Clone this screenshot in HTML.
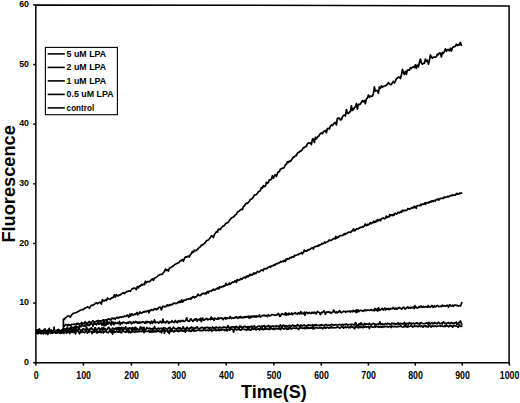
<!DOCTYPE html>
<html><head><meta charset="utf-8"><style>
html,body{margin:0;padding:0;background:#fff;}
body{width:520px;height:403px;overflow:hidden;}
svg{display:block;}
text{font-family:"Liberation Sans",sans-serif;font-weight:bold;fill:#000;}
</style></head><body>
<svg width="520" height="403" viewBox="0 0 520 403">
<rect x="0" y="0" width="520" height="403" fill="#fff"/>
<g fill="none" stroke="#000" stroke-width="1.7" stroke-linejoin="round" stroke-linecap="round">
<polyline points="36.6,332.7 37.3,332.1 38.0,331.2 38.7,331.5 39.4,328.8 40.1,332.4 40.8,333.5 41.5,331.1 42.2,330.8 42.9,331.9 43.6,334.0 44.3,331.6 45.0,330.4 45.7,331.7 46.4,332.9 47.1,331.1 47.8,332.2 48.5,330.5 49.2,331.5 49.9,330.6 50.6,332.3 51.3,331.2 52.0,333.1 52.7,332.7 53.4,332.0 54.1,327.2 54.8,331.8 55.5,332.6 56.2,333.0 56.9,330.7 57.6,331.3 58.3,330.9 59.0,331.1 59.7,333.0 60.4,330.7 61.1,331.5 61.8,332.3 62.5,330.7 63.2,331.3 63.9,331.5"/>
<polyline points="36.6,330.6 37.3,332.5 38.0,331.9 38.7,330.9 39.4,331.6 40.1,330.6 40.8,332.5 41.5,331.4 42.2,332.6 42.9,330.7 43.6,332.8 44.3,330.6 45.0,330.0 45.7,331.7 46.4,331.4 47.1,332.6 47.8,334.5 48.5,330.6 49.2,328.3 49.9,331.7 50.6,332.3 51.3,331.6 52.0,331.5 52.7,332.3 53.4,332.3 54.1,330.6 54.8,331.7 55.5,332.1 56.2,330.8 56.9,332.1 57.6,330.7 58.3,331.1 59.0,332.0 59.7,332.2 60.4,331.3 61.1,332.0 61.8,330.1 62.5,331.2 63.2,332.9 63.9,329.9"/>
<polyline points="36.6,331.9 37.3,331.1 38.0,332.8 38.7,331.6 39.4,331.9 40.1,330.7 40.8,330.5 41.5,333.6 42.2,331.5 42.9,332.4 43.6,331.6 44.3,331.3 45.0,331.4 45.7,331.1 46.4,331.3 47.1,331.2 47.8,331.4 48.5,333.0 49.2,332.5 49.9,331.9 50.6,330.7 51.3,329.9 52.0,332.7 52.7,331.1 53.4,331.1 54.1,331.6 54.8,331.8 55.5,332.0 56.2,332.2 56.9,330.5 57.6,332.8 58.3,329.4 59.0,331.6 59.7,331.1 60.4,332.1 61.1,333.3 61.8,332.7 62.5,329.7 63.2,329.1 63.9,332.4"/>
<polyline points="36.6,333.2 37.3,331.5 38.0,330.0 38.7,330.3 39.4,333.1 40.1,332.0 40.8,331.5 41.5,331.0 42.2,331.4 42.9,332.6 43.6,332.3 44.3,331.8 45.0,328.9 45.7,332.4 46.4,331.2 47.1,333.5 47.8,330.6 48.5,331.4 49.2,331.3 49.9,329.9 50.6,333.3 51.3,333.0 52.0,331.1 52.7,332.2 53.4,331.8 54.1,328.8 54.8,332.3 55.5,332.0 56.2,332.2 56.9,330.2 57.6,332.8 58.3,330.9 59.0,332.4 59.7,331.4 60.4,331.1 61.1,333.1 61.8,330.6 62.5,330.9 63.2,329.2 63.9,333.4"/>
<polyline points="36.6,329.9 37.3,329.8 38.0,333.8 38.7,329.9 39.4,331.8 40.1,331.8 40.8,330.6 41.5,331.4 42.2,333.3 42.9,331.0 43.6,330.3 44.3,329.4 45.0,331.7 45.7,333.7 46.4,333.0 47.1,330.4 47.8,330.4 48.5,331.0 49.2,332.3 49.9,331.5 50.6,331.8 51.3,331.7 52.0,331.0 52.7,333.3 53.4,331.1 54.1,330.7 54.8,331.5 55.5,333.3 56.2,332.1 56.9,331.8 57.6,329.9 58.3,332.4 59.0,329.7 59.7,330.6 60.4,333.3 61.1,333.1 61.8,331.9 62.5,329.6 63.2,331.3 63.9,331.1"/>
<polyline points="63.5,331 63.4,319 63.4,319.0 64.4,319.3 65.4,317.8 66.4,317.4 67.4,316.1 68.4,316.1 69.4,316.1 70.4,317.1 71.4,315.1 72.4,314.2 73.4,313.3 74.4,313.0 75.4,312.8 76.4,312.5 77.4,311.9 78.4,311.3 79.4,311.0 80.4,310.2 81.4,309.7 82.4,309.7 83.4,309.7 84.4,308.3 85.4,308.2 86.4,307.4 87.4,306.9 88.4,307.2 89.4,308.3 90.4,306.5 91.4,305.4 92.4,305.5 93.4,304.8 94.4,304.5 95.4,303.0 96.4,302.7 97.4,303.7 98.4,303.2 99.4,302.4 100.4,302.3 101.4,304.0 102.4,299.5 103.4,300.9 104.4,300.9 105.4,299.9 106.4,300.6 107.4,298.1 108.4,298.8 109.4,299.0 110.4,299.3 111.4,298.0 112.4,297.6 113.4,297.4 114.4,294.8 115.4,297.1 116.4,294.7 117.4,295.7 118.4,295.9 119.4,294.9 120.4,295.0 121.4,293.8 122.4,293.3 123.4,292.6 124.4,293.7 125.4,292.4 126.4,292.0 127.4,291.3 128.4,291.1 129.4,290.8 130.4,291.2 131.4,289.6 132.4,288.7 133.4,288.5 134.4,287.9 135.4,288.4 136.4,289.6 137.4,286.5 138.4,287.8 139.4,285.9 140.4,286.2 141.4,284.3 142.4,285.1 143.4,284.1 144.4,284.7 145.4,281.2 146.4,282.8 147.4,281.7 148.4,281.5 149.4,281.8 150.4,280.9 151.4,279.8 152.4,278.9 153.4,280.4 154.4,278.1 155.4,277.8 156.4,277.1 157.4,276.3 158.4,275.3 159.4,275.0 160.4,274.4 161.4,274.5 162.4,274.1 163.4,272.6 164.4,271.5 165.4,269.1 166.4,270.5 167.4,269.8 168.4,271.1 169.4,268.1 170.4,268.0 171.4,267.0 172.4,266.5 173.4,265.8 174.4,264.9 175.4,264.1 176.4,263.8 177.4,263.1 178.4,262.8 179.4,261.8 180.4,260.6 181.4,260.6 182.4,259.5 183.4,261.3 184.4,258.5 185.4,256.9 186.4,257.2 187.4,256.5 188.4,256.1 189.4,257.0 190.4,254.6 191.4,253.6 192.4,251.4 193.4,252.3 194.4,250.2 195.4,250.6 196.4,250.4 197.4,249.4 198.4,248.5 199.4,247.3 200.4,246.8 201.4,245.0 202.4,245.1 203.4,244.2 204.4,243.3 205.4,242.3 206.4,240.9 207.4,240.3 208.4,240.0 209.4,238.8 210.4,237.6 211.4,235.8 212.4,236.0 213.4,237.5 214.4,234.6 215.4,233.3 216.4,231.7 217.4,232.1 218.4,229.3 219.4,229.2 220.4,229.5 221.4,227.7 222.4,226.9 223.4,225.9 224.4,225.7 225.4,223.8 226.4,223.1 227.4,222.9 228.4,222.1 229.4,220.4 230.4,219.3 231.4,217.9 232.4,217.4 233.4,217.0 234.4,216.1 235.4,214.9 236.4,214.2 237.4,212.2 238.4,211.4 239.4,210.9 240.4,209.9 241.4,209.1 242.4,209.7 243.4,206.6 244.4,206.0 245.4,204.3 246.4,203.1 247.4,203.5 248.4,202.2 249.4,201.4 250.4,199.3 251.4,199.2 252.4,198.1 253.4,196.9 254.4,195.0 255.4,195.0 256.4,194.6 257.4,193.3 258.4,191.8 259.4,191.2 260.4,190.6 261.4,187.6 262.4,188.1 263.4,185.7 264.4,186.6 265.4,186.1 266.4,182.4 267.4,183.3 268.4,182.4 269.4,179.7 270.4,180.0 271.4,179.2 272.4,175.7 273.4,178.2 274.4,175.6 275.4,174.6 276.4,176.7 277.4,173.5 278.4,171.8 279.4,171.7 280.4,169.0 281.4,168.9 282.4,168.1 283.4,168.2 284.4,167.3 285.4,164.8 286.4,164.2 287.4,161.8 288.4,162.5 289.4,160.9 290.4,161.4 291.4,160.0 292.4,158.8 293.4,156.9 294.4,157.1 295.4,155.5 296.4,155.6 297.4,153.2 298.4,152.3 299.4,152.1 300.4,150.8 301.4,150.8 302.4,149.4 303.4,147.7 304.4,147.6 305.4,146.5 306.4,146.4 307.4,143.8 308.4,142.9 309.4,143.3 310.4,142.9 311.4,144.6 312.4,139.3 313.4,138.8 314.4,142.5 315.4,137.4 316.4,138.9 317.4,136.8 318.4,136.4 319.4,135.0 320.4,133.6 321.4,133.1 322.4,133.7 323.4,131.8 324.4,131.3 325.4,130.3 326.4,132.8 327.4,128.5 328.4,128.3 329.4,129.0 330.4,126.0 331.4,125.0 332.4,125.7 333.4,124.2 334.4,122.9 335.4,122.5 336.4,124.9 337.4,118.0 338.4,118.6 339.4,118.1 340.4,120.0 341.4,119.6 342.4,117.2 343.4,115.4 344.4,115.2 345.4,115.9 346.4,109.6 347.4,113.0 348.4,113.6 349.4,112.2 350.4,111.5 351.4,105.8 352.4,110.5 353.4,109.5 354.4,107.7 355.4,106.9 356.4,103.6 357.4,109.1 358.4,104.4 359.4,104.6 360.4,104.0 361.4,102.1 362.4,100.6 363.4,101.9 364.4,100.5 365.4,103.7 366.4,98.9 367.4,98.1 368.4,95.1 369.4,97.2 370.4,96.2 371.4,96.3 372.4,96.1 373.4,93.5 374.4,86.9 375.4,91.1 376.4,90.6 377.4,90.7 378.4,93.2 379.4,87.0 380.4,88.4 381.4,85.9 382.4,87.1 383.4,86.4 384.4,85.9 385.4,85.9 386.4,85.0 387.4,84.3 388.4,82.6 389.4,83.7 390.4,84.8 391.4,84.4 392.4,82.7 393.4,81.3 394.4,83.1 395.4,81.1 396.4,78.7 397.4,78.0 398.4,77.1 399.4,77.2 400.4,78.5 401.4,74.9 402.4,69.3 403.4,72.6 404.4,74.5 405.4,71.3 406.4,74.3 407.4,70.1 408.4,69.9 409.4,70.2 410.4,67.7 411.4,68.5 412.4,67.3 413.4,66.6 414.4,67.6 415.4,64.8 416.4,68.3 417.4,65.0 418.4,66.9 419.4,62.6 420.4,59.0 421.4,63.0 422.4,64.2 423.4,63.4 424.4,63.2 425.4,59.0 426.4,61.4 427.4,60.2 428.4,64.1 429.4,60.7 430.4,54.9 431.4,57.1 432.4,58.2 433.4,57.0 434.4,57.1 435.4,57.2 436.4,56.7 437.4,54.1 438.4,54.7 439.4,52.8 440.4,53.2 441.4,57.0 442.4,52.3 443.4,53.3 444.4,51.3 445.4,48.8 446.4,51.4 447.4,49.6 448.4,49.6 449.4,50.9 450.4,48.2 451.4,51.0 452.4,48.0 453.4,46.9 454.4,46.7 455.4,46.2 456.4,44.2 457.4,45.5 458.4,44.7 459.4,44.9 460.4,42.4 461.4,45.3"/>
<polyline points="63.5,325.9 64.2,326.2 64.9,325.5 65.6,324.6 66.3,324.8 67.0,324.6 67.7,326.0 68.4,324.5 69.1,325.3 69.8,324.8 70.5,325.3 71.2,324.9 71.9,324.3 72.6,324.3 73.3,324.4 74.0,324.4 74.7,324.1 75.4,324.3 76.1,325.0 76.8,323.3 77.5,324.1 78.2,323.4 78.9,324.0 79.6,324.2 80.3,323.6 81.0,323.8 81.7,322.5 82.4,323.9 83.1,323.2 83.8,323.7 84.5,323.2 85.2,321.7 85.9,322.5 86.6,324.0 87.3,323.6 88.0,322.6 88.7,322.2 89.4,321.3 90.1,322.9 90.8,323.2 91.5,322.1 92.2,321.6 92.9,320.7 93.6,321.9 94.3,322.8 95.0,321.7 95.7,321.7 96.4,321.3 97.1,320.7 97.8,321.8 98.5,320.5 99.2,320.9 99.9,320.9 100.6,321.2 101.3,320.9 102.0,320.7 102.7,320.1 103.4,319.9 104.1,320.6 104.8,320.2 105.5,319.9 106.2,319.8 106.9,320.1 107.6,319.3 108.3,319.2 109.0,318.8 109.7,319.6 110.4,319.5 111.1,320.0 111.8,318.1 112.5,318.2 113.2,318.8 113.9,318.4 114.6,318.3 115.3,319.1 116.0,318.0 116.7,317.5 117.4,317.4 118.1,318.2 118.8,318.0 119.5,317.0 120.2,316.9 120.9,317.4 121.6,317.4 122.3,316.7 123.0,317.0 123.7,316.8 124.4,315.8 125.1,316.5 125.8,316.5 126.5,315.9 127.2,314.9 127.9,315.6 128.6,317.3 129.3,316.3 130.0,314.1 130.7,316.0 131.4,314.0 132.1,313.9 132.8,315.2 133.5,314.9 134.2,314.6 134.9,313.8 135.6,314.3 136.3,313.5 137.0,312.5 137.7,314.9 138.4,313.5 139.1,313.7 139.8,311.9 140.5,313.0 141.2,313.2 141.9,313.2 142.6,312.4 143.3,311.8 144.0,312.2 144.7,311.3 145.4,311.5 146.1,311.9 146.8,311.0 147.5,311.0 148.2,310.6 148.9,313.0 149.6,310.9 150.3,310.0 151.0,310.4 151.7,309.5 152.4,309.9 153.1,310.4 153.8,309.1 154.5,309.3 155.2,308.6 155.9,309.2 156.6,309.8 157.3,308.5 158.0,308.7 158.7,307.6 159.4,307.3 160.1,307.1 160.8,308.2 161.5,309.9 162.2,307.2 162.9,306.2 163.6,306.7 164.3,306.3 165.0,306.9 165.7,306.4 166.4,306.3 167.1,304.8 167.8,305.6 168.5,305.6 169.2,304.8 169.9,305.3 170.6,304.5 171.3,304.9 172.0,304.3 172.7,304.5 173.4,303.3 174.1,303.2 174.8,303.1 175.5,303.7 176.2,303.4 176.9,303.4 177.6,302.7 178.3,301.8 179.0,302.7 179.7,301.2 180.4,302.3 181.1,301.0 181.8,299.9 182.5,302.2 183.2,301.5 183.9,300.1 184.6,300.3 185.3,300.0 186.0,300.1 186.7,299.0 187.4,299.1 188.1,299.3 188.8,298.8 189.5,299.0 190.2,298.2 190.9,299.2 191.6,297.6 192.3,297.8 193.0,296.6 193.7,296.7 194.4,297.8 195.1,296.7 195.8,297.1 196.5,296.4 197.2,295.8 197.9,294.1 198.6,295.4 199.3,295.3 200.0,295.7 200.7,295.3 201.4,294.3 202.1,293.6 202.8,293.8 203.5,293.2 204.2,293.5 204.9,294.0 205.6,292.8 206.3,293.9 207.0,292.0 207.7,291.6 208.4,292.9 209.1,291.1 209.8,291.3 210.5,291.1 211.2,291.3 211.9,290.4 212.6,290.1 213.3,289.2 214.0,290.3 214.7,289.5 215.4,289.8 216.1,288.9 216.8,288.9 217.5,287.9 218.2,288.1 218.9,288.8 219.6,286.7 220.3,287.5 221.0,287.4 221.7,286.7 222.4,286.6 223.1,286.8 223.8,285.8 224.5,286.1 225.2,285.3 225.9,283.4 226.6,285.0 227.3,284.9 228.0,284.6 228.7,284.3 229.4,282.9 230.1,284.3 230.8,283.6 231.5,283.1 232.2,282.2 232.9,282.2 233.6,282.3 234.3,281.9 235.0,280.7 235.7,281.5 236.4,282.3 237.1,279.6 237.8,280.6 238.5,280.1 239.2,279.7 239.9,280.0 240.6,278.5 241.3,279.0 242.0,279.3 242.7,278.3 243.4,277.7 244.1,277.7 244.8,277.2 245.5,278.0 246.2,276.4 246.9,277.0 247.6,275.8 248.3,276.6 249.0,276.0 249.7,274.4 250.4,275.3 251.1,274.6 251.8,274.7 252.5,275.1 253.2,273.4 253.9,272.9 254.6,273.9 255.3,273.1 256.0,273.5 256.7,272.3 257.4,271.4 258.1,271.6 258.8,272.1 259.5,271.8 260.2,270.9 260.9,270.4 261.6,270.1 262.3,269.8 263.0,270.8 263.7,269.5 264.4,268.5 265.1,268.5 265.8,268.9 266.5,268.7 267.2,268.1 267.9,267.5 268.6,267.5 269.3,266.5 270.0,266.4 270.7,267.0 271.4,266.0 272.1,265.9 272.8,265.8 273.5,265.2 274.2,264.6 274.9,265.3 275.6,264.3 276.3,263.6 277.0,263.8 277.7,263.6 278.4,262.9 279.1,263.0 279.8,262.6 280.5,261.4 281.2,262.0 281.9,261.7 282.6,261.1 283.3,261.7 284.0,260.4 284.7,260.3 285.4,261.6 286.1,259.1 286.8,259.6 287.5,258.5 288.2,258.7 288.9,259.1 289.6,257.9 290.3,257.6 291.0,258.0 291.7,257.0 292.4,256.9 293.1,256.9 293.8,257.1 294.5,255.3 295.2,255.7 295.9,255.3 296.6,255.1 297.3,254.8 298.0,254.4 298.7,254.6 299.4,253.5 300.1,253.6 300.8,253.2 301.5,252.5 302.2,253.9 302.9,253.1 303.6,252.2 304.3,250.1 305.0,251.2 305.7,250.8 306.4,251.1 307.1,251.0 307.8,249.8 308.5,249.7 309.2,250.1 309.9,249.2 310.6,249.1 311.3,248.0 312.0,248.0 312.7,247.9 313.4,249.0 314.1,247.3 314.8,246.8 315.5,246.4 316.2,246.3 316.9,246.4 317.6,245.7 318.3,246.2 319.0,245.0 319.7,245.4 320.4,244.5 321.1,244.5 321.8,243.4 322.5,243.9 323.2,243.6 323.9,243.3 324.6,242.0 325.3,243.1 326.0,242.3 326.7,242.0 327.4,241.7 328.1,241.5 328.8,240.1 329.5,240.3 330.2,240.2 330.9,240.5 331.6,240.2 332.3,239.5 333.0,239.0 333.7,238.6 334.4,238.6 335.1,238.9 335.8,236.3 336.5,238.3 337.2,237.8 337.9,237.0 338.6,237.4 339.3,236.0 340.0,235.7 340.7,235.6 341.4,235.8 342.1,235.6 342.8,235.0 343.5,235.0 344.2,233.6 344.9,234.6 345.6,233.5 346.3,233.7 347.0,233.4 347.7,232.7 348.4,232.2 349.1,232.0 349.8,232.2 350.5,232.4 351.2,232.0 351.9,230.8 352.6,230.7 353.3,229.0 354.0,230.9 354.7,229.4 355.4,230.5 356.1,229.3 356.8,228.7 357.5,228.8 358.2,228.8 358.9,228.1 359.6,228.1 360.3,227.3 361.0,227.5 361.7,227.3 362.4,226.5 363.1,227.1 363.8,226.2 364.5,226.0 365.2,224.0 365.9,225.3 366.6,225.6 367.3,224.3 368.0,225.1 368.7,224.4 369.4,224.1 370.1,222.6 370.8,223.4 371.5,223.7 372.2,222.7 372.9,222.7 373.6,221.2 374.3,222.5 375.0,221.7 375.7,222.1 376.4,220.3 377.1,221.3 377.8,219.6 378.5,220.7 379.2,219.6 379.9,219.5 380.6,220.7 381.3,219.0 382.0,218.6 382.7,218.2 383.4,217.9 384.1,218.8 384.8,218.6 385.5,218.2 386.2,216.0 386.9,217.3 387.6,217.2 388.3,216.9 389.0,216.9 389.7,214.5 390.4,215.8 391.1,215.0 391.8,214.7 392.5,215.6 393.2,214.5 393.9,215.4 394.6,213.8 395.3,213.3 396.0,213.8 396.7,214.1 397.4,213.2 398.1,212.1 398.8,212.6 399.5,213.0 400.2,212.0 400.9,211.6 401.6,212.3 402.3,210.2 403.0,210.9 403.7,210.8 404.4,210.3 405.1,210.7 405.8,210.3 406.5,210.4 407.2,209.8 407.9,208.4 408.6,209.0 409.3,209.2 410.0,208.8 410.7,208.7 411.4,207.8 412.1,207.5 412.8,208.2 413.5,207.0 414.2,206.2 414.9,207.6 415.6,206.6 416.3,208.3 417.0,205.7 417.7,205.5 418.4,205.5 419.1,205.6 419.8,205.9 420.5,204.3 421.2,205.4 421.9,204.2 422.6,204.1 423.3,204.5 424.0,204.0 424.7,203.0 425.4,204.3 426.1,202.7 426.8,203.0 427.5,202.7 428.2,203.1 428.9,202.0 429.6,202.5 430.3,201.4 431.0,202.1 431.7,200.9 432.4,200.9 433.1,201.6 433.8,200.7 434.5,200.4 435.2,201.1 435.9,200.1 436.6,199.3 437.3,199.8 438.0,198.9 438.7,199.9 439.4,199.6 440.1,198.6 440.8,198.3 441.5,198.5 442.2,198.5 442.9,197.9 443.6,198.4 444.3,196.9 445.0,197.5 445.7,197.3 446.4,197.1 447.1,197.1 447.8,196.2 448.5,196.9 449.2,196.4 449.9,196.0 450.6,195.5 451.3,195.4 452.0,195.8 452.7,194.8 453.4,195.0 454.1,195.2 454.8,195.1 455.5,195.1 456.2,193.9 456.9,193.3 457.6,194.2 458.3,193.8 459.0,193.9 459.7,193.0 460.4,193.4 461.1,193.1 461.8,193.0"/>
<polyline points="63.5,328.8 64.2,330.0 64.9,328.8 65.6,330.3 66.3,329.7 67.0,327.7 67.7,329.0 68.4,328.9 69.1,328.2 69.8,329.1 70.5,329.0 71.2,326.2 71.9,328.0 72.6,327.6 73.3,327.7 74.0,328.1 74.7,326.5 75.4,326.5 76.1,328.1 76.8,326.6 77.5,327.0 78.2,327.1 78.9,327.2 79.6,325.4 80.3,326.7 81.0,326.8 81.7,324.7 82.4,325.7 83.1,325.6 83.8,326.2 84.5,325.4 85.2,326.4 85.9,325.2 86.6,323.2 87.3,324.9 88.0,325.4 88.7,324.3 89.4,325.6 90.1,324.5 90.8,324.0 91.5,323.7 92.2,324.1 92.9,326.3 93.6,324.2 94.3,323.5 95.0,324.1 95.7,323.8 96.4,324.8 97.1,323.8 97.8,322.2 98.5,323.9 99.2,324.3 99.9,322.9 100.6,323.5 101.3,322.9 102.0,325.5 102.7,323.8 103.4,321.5 104.1,325.8 104.8,322.0 105.5,325.4 106.2,324.8 106.9,320.2 107.6,324.2 108.3,323.8 109.0,322.1 109.7,322.1 110.4,324.0 111.1,325.0 111.8,321.5 112.5,323.8 113.2,322.2 113.9,324.8 114.6,323.0 115.3,322.4 116.0,323.5 116.7,323.4 117.4,322.6 118.1,323.5 118.8,322.5 119.5,321.5 120.2,324.8 120.9,323.0 121.6,322.9 122.3,323.5 123.0,322.0 123.7,322.2 124.4,322.7 125.1,322.8 125.8,323.0 126.5,323.7 127.2,322.3 127.9,323.1 128.6,323.2 129.3,321.7 130.0,322.7 130.7,321.8 131.4,323.8 132.1,323.2 132.8,322.9 133.5,321.6 134.2,322.9 134.9,322.4 135.6,321.5 136.3,322.6 137.0,321.9 137.7,323.2 138.4,323.1 139.1,321.8 139.8,323.2 140.5,322.2 141.2,322.4 141.9,322.6 142.6,321.7 143.3,321.9 144.0,322.0 144.7,323.2 145.4,323.1 146.1,321.5 146.8,322.9 147.5,321.5 148.2,321.8 148.9,322.4 149.6,322.0 150.3,323.6 151.0,321.9 151.7,321.1 152.4,323.4 153.1,322.1 153.8,322.2 154.5,319.8 155.2,322.8 155.9,322.4 156.6,322.3 157.3,322.1 158.0,322.7 158.7,323.2 159.4,322.2 160.1,321.2 160.8,321.8 161.5,322.9 162.2,322.7 162.9,319.1 163.6,322.5 164.3,322.2 165.0,322.1 165.7,322.9 166.4,321.7 167.1,321.0 167.8,321.2 168.5,323.3 169.2,322.9 169.9,322.1 170.6,322.2 171.3,322.2 172.0,320.7 172.7,321.7 173.4,322.1 174.1,322.5 174.8,321.1 175.5,320.5 176.2,322.1 176.9,322.2 177.6,322.7 178.3,320.5 179.0,321.3 179.7,321.2 180.4,321.8 181.1,320.4 181.8,321.2 182.5,321.0 183.2,320.5 183.9,321.5 184.6,321.4 185.3,320.9 186.0,319.6 186.7,317.8 187.4,320.6 188.1,321.1 188.8,321.1 189.5,321.3 190.2,319.3 190.9,318.8 191.6,320.0 192.3,320.4 193.0,321.4 193.7,320.3 194.4,319.1 195.1,320.1 195.8,319.1 196.5,318.8 197.2,321.3 197.9,319.7 198.6,319.6 199.3,319.2 200.0,320.4 200.7,318.4 201.4,321.7 202.1,318.3 202.8,318.2 203.5,320.1 204.2,320.2 204.9,319.6 205.6,319.0 206.3,318.9 207.0,318.4 207.7,319.9 208.4,319.4 209.1,319.2 209.8,319.0 210.5,319.6 211.2,317.0 211.9,319.2 212.6,318.1 213.3,319.2 214.0,320.2 214.7,318.2 215.4,318.3 216.1,319.0 216.8,319.2 217.5,319.1 218.2,317.7 218.9,319.0 219.6,318.0 220.3,318.1 221.0,318.5 221.7,317.9 222.4,318.4 223.1,319.7 223.8,318.3 224.5,318.3 225.2,317.4 225.9,319.2 226.6,317.8 227.3,318.3 228.0,318.0 228.7,318.1 229.4,318.4 230.1,316.6 230.8,317.4 231.5,318.6 232.2,318.2 232.9,317.9 233.6,318.2 234.3,318.2 235.0,317.2 235.7,317.7 236.4,316.6 237.1,317.5 237.8,318.3 238.5,317.6 239.2,316.9 239.9,317.8 240.6,316.5 241.3,317.2 242.0,317.9 242.7,317.5 243.4,317.0 244.1,317.7 244.8,316.6 245.5,317.4 246.2,316.9 246.9,316.6 247.6,317.2 248.3,316.2 249.0,317.9 249.7,316.3 250.4,317.9 251.1,316.1 251.8,317.2 252.5,316.1 253.2,316.2 253.9,317.0 254.6,315.9 255.3,316.0 256.0,317.2 256.7,316.0 257.4,316.6 258.1,316.3 258.8,316.4 259.5,315.0 260.2,317.1 260.9,316.6 261.6,316.2 262.3,315.6 263.0,315.3 263.7,315.7 264.4,315.2 265.1,316.0 265.8,315.3 266.5,315.5 267.2,316.5 267.9,315.2 268.6,314.9 269.3,316.0 270.0,315.7 270.7,315.6 271.4,315.1 272.1,314.5 272.8,314.7 273.5,315.0 274.2,315.1 274.9,315.2 275.6,315.3 276.3,315.1 277.0,314.9 277.7,314.1 278.4,313.5 279.1,314.5 279.8,316.4 280.5,316.2 281.2,314.4 281.9,313.7 282.6,313.8 283.3,314.4 284.0,314.7 284.7,314.2 285.4,312.8 286.1,315.2 286.8,313.5 287.5,313.9 288.2,314.9 288.9,313.1 289.6,314.2 290.3,314.0 291.0,314.2 291.7,312.9 292.4,314.7 293.1,313.6 293.8,313.5 294.5,313.4 295.2,312.7 295.9,313.7 296.6,313.5 297.3,314.2 298.0,313.1 298.7,312.7 299.4,313.8 300.1,313.7 300.8,311.6 301.5,313.7 302.2,313.4 302.9,313.1 303.6,314.0 304.3,312.1 305.0,315.2 305.7,312.8 306.4,312.2 307.1,312.7 307.8,313.6 308.5,312.7 309.2,312.4 309.9,313.2 310.6,313.3 311.3,313.3 312.0,312.2 312.7,312.7 313.4,313.2 314.1,312.2 314.8,312.3 315.5,313.4 316.2,314.0 316.9,312.5 317.6,311.3 318.3,311.9 319.0,312.4 319.7,312.9 320.4,314.6 321.1,312.7 321.8,312.3 322.5,312.7 323.2,311.8 323.9,310.7 324.6,312.1 325.3,314.2 326.0,313.1 326.7,312.1 327.4,311.9 328.1,312.3 328.8,311.7 329.5,312.3 330.2,312.2 330.9,313.4 331.6,312.7 332.3,312.3 333.0,311.9 333.7,310.1 334.4,311.4 335.1,312.3 335.8,312.9 336.5,311.8 337.2,312.8 337.9,312.3 338.6,312.1 339.3,310.7 340.0,311.1 340.7,312.3 341.4,312.8 342.1,312.0 342.8,312.0 343.5,311.2 344.2,311.3 344.9,311.3 345.6,312.3 346.3,311.8 347.0,311.4 347.7,311.2 348.4,311.6 349.1,311.5 349.8,310.8 350.5,312.1 351.2,311.2 351.9,311.0 352.6,311.8 353.3,310.3 354.0,311.0 354.7,311.4 355.4,310.5 356.1,312.5 356.8,309.8 357.5,312.0 358.2,310.1 358.9,311.5 359.6,310.5 360.3,310.3 361.0,310.5 361.7,310.7 362.4,310.8 363.1,311.3 363.8,310.3 364.5,310.6 365.2,309.8 365.9,310.7 366.6,310.4 367.3,310.0 368.0,310.1 368.7,310.2 369.4,310.3 370.1,310.3 370.8,309.8 371.5,309.5 372.2,310.4 372.9,310.4 373.6,309.8 374.3,310.9 375.0,308.4 375.7,309.4 376.4,310.4 377.1,309.0 377.8,311.1 378.5,307.8 379.2,308.9 379.9,310.3 380.6,310.0 381.3,309.2 382.0,308.4 382.7,308.9 383.4,310.0 384.1,308.9 384.8,307.9 385.5,309.9 386.2,308.7 386.9,308.9 387.6,309.2 388.3,308.3 389.0,309.7 389.7,309.2 390.4,308.3 391.1,309.0 391.8,308.6 392.5,308.7 393.2,307.4 393.9,308.4 394.6,309.2 395.3,308.1 396.0,309.1 396.7,308.4 397.4,309.0 398.1,308.1 398.8,307.9 399.5,307.3 400.2,308.3 400.9,308.5 401.6,309.1 402.3,308.3 403.0,307.6 403.7,307.2 404.4,307.7 405.1,309.1 405.8,308.6 406.5,308.1 407.2,307.0 407.9,307.0 408.6,308.3 409.3,307.8 410.0,307.4 410.7,308.2 411.4,307.4 412.1,307.6 412.8,307.6 413.5,306.8 414.2,308.5 414.9,305.6 415.6,307.4 416.3,307.1 417.0,308.1 417.7,307.6 418.4,307.7 419.1,306.5 419.8,307.4 420.5,306.7 421.2,305.9 421.9,307.4 422.6,307.1 423.3,306.3 424.0,307.2 424.7,307.0 425.4,306.6 426.1,306.7 426.8,307.2 427.5,307.2 428.2,305.6 428.9,307.0 429.6,306.8 430.3,307.2 431.0,306.6 431.7,305.6 432.4,305.8 433.1,307.5 433.8,306.7 434.5,305.9 435.2,306.9 435.9,306.6 436.6,305.8 437.3,305.4 438.0,305.8 438.7,306.8 439.4,306.5 440.1,306.2 440.8,306.3 441.5,306.6 442.2,305.1 442.9,306.1 443.6,305.8 444.3,305.7 445.0,306.1 445.7,306.1 446.4,305.8 447.1,305.2 447.8,305.8 448.5,307.2 449.2,305.2 449.9,304.7 450.6,305.8 451.3,306.0 452.0,306.1 452.7,305.1 453.4,306.3 454.1,305.2 454.8,305.0 455.5,305.1 456.2,305.3 456.9,305.7 457.6,305.4 458.3,306.1 459.0,305.8 459.7,305.5 460.4,306.0 461.1,304.6 461.8,302.5"/>
<polyline points="63.5,331.3 64.2,330.4 64.9,330.7 65.6,330.1 66.3,329.0 67.0,330.0 67.7,331.2 68.4,331.7 69.1,329.5 69.8,328.7 70.5,331.1 71.2,329.2 71.9,331.8 72.6,329.5 73.3,328.8 74.0,330.4 74.7,331.1 75.4,328.1 76.1,331.0 76.8,329.4 77.5,331.3 78.2,329.1 78.9,327.6 79.6,329.4 80.3,329.9 81.0,331.2 81.7,330.5 82.4,329.5 83.1,328.7 83.8,329.0 84.5,329.9 85.2,329.5 85.9,329.8 86.6,327.0 87.3,329.5 88.0,329.2 88.7,331.7 89.4,329.7 90.1,328.4 90.8,329.5 91.5,327.8 92.2,328.8 92.9,329.5 93.6,330.7 94.3,329.6 95.0,327.6 95.7,328.4 96.4,331.0 97.1,329.6 97.8,329.2 98.5,327.8 99.2,328.3 99.9,329.4 100.6,330.2 101.3,328.5 102.0,327.9 102.7,330.0 103.4,327.9 104.1,329.6 104.8,328.4 105.5,329.1 106.2,330.1 106.9,329.3 107.6,329.3 108.3,327.4 109.0,327.6 109.7,328.8 110.4,329.8 111.1,329.5 111.8,330.0 112.5,328.1 113.2,328.3 113.9,329.3 114.6,328.7 115.3,328.8 116.0,327.9 116.7,329.9 117.4,327.8 118.1,329.4 118.8,327.4 119.5,331.8 120.2,327.9 120.9,329.7 121.6,327.3 122.3,328.4 123.0,330.3 123.7,327.5 124.4,329.1 125.1,328.3 125.8,326.8 126.5,330.9 127.2,330.8 127.9,328.1 128.6,329.4 129.3,327.9 130.0,327.8 130.7,328.9 131.4,328.1 132.1,330.8 132.8,327.5 133.5,329.6 134.2,329.7 134.9,327.3 135.6,327.3 136.3,329.1 137.0,328.4 137.7,329.4 138.4,330.0 139.1,330.3 139.8,328.1 140.5,326.8 141.2,329.6 141.9,327.5 142.6,329.6 143.3,327.6 144.0,327.4 144.7,330.1 145.4,329.6 146.1,329.5 146.8,327.6 147.5,328.4 148.2,328.5 148.9,328.7 149.6,328.0 150.3,329.1 151.0,328.7 151.7,328.9 152.4,328.4 153.1,329.9 153.8,329.0 154.5,326.5 155.2,328.3 155.9,328.9 156.6,329.9 157.3,328.5 158.0,328.4 158.7,328.1 159.4,329.3 160.1,328.4 160.8,328.4 161.5,328.3 162.2,329.3 162.9,328.6 163.6,327.6 164.3,329.1 165.0,327.9 165.7,328.7 166.4,328.6 167.1,329.3 167.8,329.2 168.5,327.8 169.2,328.0 169.9,327.2 170.6,329.7 171.3,329.1 172.0,329.5 172.7,328.1 173.4,326.9 174.1,327.9 174.8,328.6 175.5,328.7 176.2,328.5 176.9,328.9 177.6,328.8 178.3,327.3 179.0,328.9 179.7,327.8 180.4,328.0 181.1,329.6 181.8,328.9 182.5,328.0 183.2,326.7 183.9,328.4 184.6,329.0 185.3,328.6 186.0,329.5 186.7,327.6 187.4,327.3 188.1,328.4 188.8,328.8 189.5,329.0 190.2,327.7 190.9,328.1 191.6,326.9 192.3,327.6 193.0,327.8 193.7,330.4 194.4,328.1 195.1,328.6 195.8,327.6 196.5,327.9 197.2,326.8 197.9,327.8 198.6,328.5 199.3,329.0 200.0,328.4 200.7,327.9 201.4,327.6 202.1,327.4 202.8,327.7 203.5,328.4 204.2,327.7 204.9,328.8 205.6,327.8 206.3,327.4 207.0,327.7 207.7,327.4 208.4,327.5 209.1,328.6 209.8,327.6 210.5,327.7 211.2,328.0 211.9,328.0 212.6,327.0 213.3,328.1 214.0,327.8 214.7,327.7 215.4,327.9 216.1,326.9 216.8,327.4 217.5,327.7 218.2,328.0 218.9,327.3 219.6,327.2 220.3,327.6 221.0,327.9 221.7,327.6 222.4,327.8 223.1,327.0 223.8,327.1 224.5,327.4 225.2,327.4 225.9,327.3 226.6,328.2 227.3,327.2 228.0,325.6 228.7,327.3 229.4,328.1 230.1,327.4 230.8,327.9 231.5,326.8 232.2,326.9 232.9,326.8 233.6,327.1 234.3,328.1 235.0,326.6 235.7,327.8 236.4,326.4 237.1,326.9 237.8,327.5 238.5,327.5 239.2,327.2 239.9,326.0 240.6,327.0 241.3,326.5 242.0,328.3 242.7,327.0 243.4,327.1 244.1,326.3 244.8,326.7 245.5,326.4 246.2,327.6 246.9,326.9 247.6,327.1 248.3,326.5 249.0,326.7 249.7,327.6 250.4,326.6 251.1,326.1 251.8,327.1 252.5,326.3 253.2,326.4 253.9,326.9 254.6,325.9 255.3,328.2 256.0,327.7 256.7,327.0 257.4,326.9 258.1,326.0 258.8,326.2 259.5,326.1 260.2,326.7 260.9,327.3 261.6,326.1 262.3,327.2 263.0,325.9 263.7,326.2 264.4,325.7 265.1,327.6 265.8,326.6 266.5,326.7 267.2,326.0 267.9,326.7 268.6,325.3 269.3,326.4 270.0,327.4 270.7,326.2 271.4,326.2 272.1,326.4 272.8,325.8 273.5,326.2 274.2,326.7 274.9,326.3 275.6,326.3 276.3,325.7 277.0,326.1 277.7,326.1 278.4,326.9 279.1,326.3 279.8,325.8 280.5,324.8 281.2,326.6 281.9,327.7 282.6,325.9 283.3,325.2 284.0,325.6 284.7,326.6 285.4,325.7 286.1,325.8 286.8,326.0 287.5,326.5 288.2,325.7 288.9,325.5 289.6,325.4 290.3,326.6 291.0,326.4 291.7,325.8 292.4,325.1 293.1,325.4 293.8,326.2 294.5,325.6 295.2,326.2 295.9,325.9 296.6,325.9 297.3,324.6 298.0,325.8 298.7,325.3 299.4,325.5 300.1,326.8 300.8,325.0 301.5,325.4 302.2,326.2 302.9,325.6 303.6,325.2 304.3,324.8 305.0,325.7 305.7,325.9 306.4,326.1 307.1,325.3 307.8,325.8 308.5,324.8 309.2,325.4 309.9,325.0 310.6,325.4 311.3,325.5 312.0,325.7 312.7,324.7 313.4,327.0 314.1,325.1 314.8,324.9 315.5,325.3 316.2,324.6 316.9,325.4 317.6,325.5 318.3,325.2 319.0,325.6 319.7,325.1 320.4,325.3 321.1,324.6 321.8,325.3 322.5,324.9 323.2,325.3 323.9,325.5 324.6,325.5 325.3,324.6 326.0,324.5 326.7,325.0 327.4,325.3 328.1,325.1 328.8,325.2 329.5,325.4 330.2,325.1 330.9,324.9 331.6,324.4 332.3,324.6 333.0,324.9 333.7,325.2 334.4,325.1 335.1,324.8 335.8,324.6 336.5,325.0 337.2,324.9 337.9,325.0 338.6,324.9 339.3,324.5 340.0,324.3 340.7,325.0 341.4,324.9 342.1,324.6 342.8,324.4 343.5,325.7 344.2,324.4 344.9,324.5 345.6,324.6 346.3,323.9 347.0,324.5 347.7,325.3 348.4,324.8 349.1,324.5 349.8,324.5 350.5,324.4 351.2,324.8 351.9,324.3 352.6,324.3 353.3,324.6 354.0,325.1 354.7,324.6 355.4,322.6 356.1,323.1 356.8,325.9 357.5,325.4 358.2,325.1 358.9,324.0 359.6,323.7 360.3,324.5 361.0,322.9 361.7,324.8 362.4,324.2 363.1,324.8 363.8,325.0 364.5,323.4 365.2,324.5 365.9,324.1 366.6,323.8 367.3,324.2 368.0,324.2 368.7,324.6 369.4,323.2 370.1,324.4 370.8,324.8 371.5,324.3 372.2,324.2 372.9,323.8 373.6,323.3 374.3,324.1 375.0,324.0 375.7,324.1 376.4,324.8 377.1,324.1 377.8,324.1 378.5,324.7 379.2,323.5 379.9,321.9 380.6,324.1 381.3,323.9 382.0,324.4 382.7,323.7 383.4,324.5 384.1,324.3 384.8,323.9 385.5,323.4 386.2,323.9 386.9,324.1 387.6,323.2 388.3,323.7 389.0,323.9 389.7,323.8 390.4,324.4 391.1,324.2 391.8,323.2 392.5,323.7 393.2,323.3 393.9,324.0 394.6,323.3 395.3,324.2 396.0,323.9 396.7,324.1 397.4,323.5 398.1,322.8 398.8,324.4 399.5,323.4 400.2,324.0 400.9,323.4 401.6,323.5 402.3,324.2 403.0,323.3 403.7,323.9 404.4,322.5 405.1,323.8 405.8,325.2 406.5,323.3 407.2,323.4 407.9,323.6 408.6,324.2 409.3,322.6 410.0,323.5 410.7,323.2 411.4,324.2 412.1,323.3 412.8,323.6 413.5,323.1 414.2,323.7 414.9,324.0 415.6,323.2 416.3,323.4 417.0,322.6 417.7,323.6 418.4,324.0 419.1,323.5 419.8,324.3 420.5,322.7 421.2,322.8 421.9,323.1 422.6,323.5 423.3,323.7 424.0,323.5 424.7,323.5 425.4,323.7 426.1,323.1 426.8,322.9 427.5,322.9 428.2,324.4 428.9,322.3 429.6,323.3 430.3,323.9 431.0,323.5 431.7,322.7 432.4,323.1 433.1,323.5 433.8,323.7 434.5,322.5 435.2,323.2 435.9,323.1 436.6,323.7 437.3,323.8 438.0,322.8 438.7,322.2 439.4,323.1 440.1,323.8 440.8,323.5 441.5,323.1 442.2,324.1 442.9,322.6 443.6,321.8 444.3,322.8 445.0,323.3 445.7,323.4 446.4,324.2 447.1,322.8 447.8,322.9 448.5,322.4 449.2,323.6 449.9,323.1 450.6,323.4 451.3,322.6 452.0,322.8 452.7,323.5 453.4,323.0 454.1,323.3 454.8,323.1 455.5,322.6 456.2,322.1 456.9,324.6 457.6,323.5 458.3,324.0 459.0,322.4 459.7,322.5 460.4,321.0 461.1,323.1 461.8,324.0"/>
<polyline points="63.5,332.0 64.2,332.0 64.9,331.7 65.6,330.7 66.3,333.1 67.0,331.1 67.7,332.5 68.4,331.8 69.1,331.1 69.8,333.6 70.5,329.8 71.2,331.2 71.9,332.4 72.6,331.6 73.3,332.2 74.0,332.5 74.7,331.0 75.4,333.9 76.1,331.7 76.8,331.5 77.5,330.6 78.2,329.3 78.9,332.7 79.6,333.8 80.3,332.1 81.0,331.3 81.7,332.4 82.4,330.3 83.1,331.9 83.8,332.1 84.5,332.7 85.2,332.1 85.9,331.0 86.6,330.7 87.3,333.1 88.0,332.1 88.7,332.3 89.4,330.7 90.1,331.5 90.8,331.5 91.5,332.1 92.2,333.5 92.9,331.6 93.6,332.3 94.3,332.1 95.0,329.0 95.7,331.2 96.4,332.4 97.1,333.0 97.8,331.3 98.5,332.2 99.2,332.1 99.9,330.6 100.6,332.5 101.3,332.7 102.0,331.7 102.7,330.4 103.4,332.9 104.1,331.7 104.8,331.4 105.5,331.6 106.2,330.8 106.9,332.5 107.6,332.3 108.3,332.7 109.0,331.9 109.7,330.5 110.4,330.9 111.1,332.3 111.8,331.2 112.5,334.1 113.2,330.9 113.9,330.7 114.6,332.3 115.3,332.2 116.0,331.5 116.7,331.1 117.4,331.8 118.1,332.2 118.8,331.9 119.5,330.8 120.2,332.0 120.9,332.6 121.6,332.8 122.3,330.7 123.0,331.1 123.7,331.2 124.4,331.8 125.1,332.0 125.8,332.3 126.5,331.8 127.2,331.1 127.9,331.1 128.6,332.6 129.3,330.7 130.0,331.8 130.7,332.8 131.4,332.0 132.1,329.7 132.8,331.9 133.5,331.4 134.2,331.8 134.9,332.5 135.6,330.0 136.3,331.1 137.0,332.0 137.7,331.7 138.4,331.6 139.1,331.6 139.8,331.6 140.5,331.4 141.2,331.3 141.9,331.6 142.6,330.8 143.3,330.6 144.0,332.7 144.7,331.4 145.4,331.4 146.1,331.2 146.8,331.4 147.5,331.4 148.2,331.4 148.9,330.5 149.6,332.2 150.3,330.9 151.0,332.2 151.7,331.0 152.4,330.5 153.1,332.1 153.8,331.4 154.5,330.9 155.2,331.9 155.9,330.8 156.6,331.8 157.3,329.8 158.0,331.2 158.7,330.9 159.4,331.6 160.1,331.9 160.8,330.8 161.5,332.8 162.2,331.0 162.9,330.0 163.6,328.4 164.3,333.2 165.0,330.4 165.7,331.2 166.4,330.5 167.1,330.0 167.8,332.1 168.5,331.1 169.2,333.6 169.9,330.7 170.6,329.1 171.3,331.4 172.0,330.6 172.7,330.8 173.4,331.9 174.1,330.6 174.8,331.6 175.5,330.7 176.2,330.1 176.9,331.0 177.6,330.3 178.3,331.6 179.0,331.3 179.7,330.6 180.4,330.8 181.1,330.8 181.8,330.4 182.5,331.2 183.2,330.4 183.9,331.0 184.6,330.0 185.3,332.2 186.0,331.1 186.7,330.3 187.4,330.5 188.1,330.2 188.8,331.1 189.5,330.1 190.2,331.0 190.9,331.5 191.6,330.7 192.3,329.4 193.0,330.4 193.7,331.0 194.4,330.3 195.1,331.1 195.8,330.7 196.5,330.7 197.2,330.2 197.9,330.1 198.6,330.3 199.3,330.5 200.0,330.7 200.7,330.6 201.4,330.3 202.1,330.5 202.8,330.8 203.5,329.7 204.2,330.2 204.9,330.2 205.6,330.6 206.3,330.4 207.0,330.3 207.7,330.0 208.4,330.8 209.1,330.6 209.8,329.3 210.5,330.3 211.2,329.7 211.9,331.3 212.6,330.2 213.3,330.1 214.0,330.1 214.7,330.0 215.4,328.5 216.1,330.8 216.8,330.1 217.5,330.3 218.2,330.3 218.9,329.1 219.6,330.6 220.3,330.1 221.0,330.3 221.7,329.3 222.4,330.0 223.1,329.8 223.8,329.4 224.5,330.6 225.2,329.7 225.9,330.5 226.6,329.3 227.3,330.8 228.0,329.8 228.7,329.6 229.4,330.1 230.1,330.2 230.8,328.9 231.5,329.2 232.2,329.0 232.9,329.7 233.6,332.2 234.3,329.7 235.0,328.8 235.7,329.2 236.4,330.0 237.1,329.6 237.8,329.7 238.5,328.6 239.2,328.7 239.9,330.1 240.6,329.9 241.3,330.1 242.0,329.1 242.7,329.2 243.4,329.2 244.1,329.5 244.8,329.3 245.5,329.5 246.2,330.3 246.9,329.9 247.6,328.9 248.3,326.8 249.0,330.0 249.7,329.3 250.4,330.1 251.1,330.1 251.8,329.1 252.5,327.4 253.2,329.5 253.9,329.1 254.6,329.1 255.3,329.3 256.0,329.8 256.7,329.1 257.4,329.1 258.1,329.1 258.8,328.7 259.5,330.1 260.2,328.3 260.9,328.9 261.6,329.4 262.3,328.5 263.0,329.4 263.7,329.7 264.4,328.6 265.1,329.1 265.8,328.4 266.5,329.1 267.2,328.8 267.9,328.9 268.6,329.4 269.3,329.0 270.0,329.4 270.7,327.6 271.4,328.3 272.1,329.0 272.8,329.1 273.5,328.3 274.2,329.5 274.9,328.8 275.6,328.9 276.3,328.2 277.0,328.8 277.7,329.0 278.4,328.6 279.1,328.9 279.8,327.9 280.5,329.7 281.2,328.5 281.9,327.9 282.6,328.4 283.3,328.6 284.0,329.2 284.7,328.2 285.4,328.5 286.1,327.7 286.8,329.4 287.5,328.5 288.2,329.2 288.9,327.6 289.6,328.5 290.3,327.9 291.0,328.9 291.7,329.0 292.4,328.0 293.1,328.2 293.8,328.2 294.5,328.2 295.2,328.5 295.9,328.1 296.6,327.8 297.3,328.5 298.0,328.6 298.7,329.5 299.4,327.9 300.1,328.1 300.8,328.0 301.5,327.7 302.2,328.5 302.9,328.3 303.6,328.1 304.3,327.6 305.0,328.7 305.7,328.6 306.4,327.6 307.1,327.7 307.8,328.4 308.5,327.6 309.2,328.3 309.9,328.1 310.6,327.9 311.3,328.1 312.0,327.3 312.7,328.7 313.4,326.9 314.1,328.9 314.8,328.3 315.5,328.0 316.2,327.3 316.9,327.7 317.6,328.1 318.3,328.0 319.0,328.1 319.7,327.2 320.4,328.0 321.1,327.5 321.8,327.3 322.5,328.8 323.2,327.8 323.9,328.0 324.6,326.8 325.3,328.2 326.0,328.2 326.7,327.3 327.4,327.2 328.1,327.5 328.8,328.2 329.5,327.7 330.2,327.2 330.9,327.8 331.6,326.7 332.3,327.7 333.0,328.0 333.7,327.5 334.4,327.7 335.1,327.5 335.8,327.8 336.5,327.5 337.2,326.9 337.9,327.1 338.6,327.2 339.3,328.0 340.0,328.2 340.7,327.5 341.4,326.7 342.1,326.8 342.8,327.3 343.5,328.1 344.2,327.5 344.9,327.2 345.6,326.8 346.3,327.6 347.0,327.3 347.7,327.1 348.4,327.1 349.1,327.8 349.8,326.9 350.5,327.7 351.2,326.1 351.9,326.8 352.6,327.3 353.3,327.0 354.0,328.0 354.7,328.8 355.4,326.5 356.1,326.2 356.8,327.1 357.5,327.5 358.2,327.8 358.9,325.8 359.6,327.5 360.3,326.4 361.0,327.4 361.7,326.8 362.4,327.2 363.1,327.8 363.8,326.3 364.5,327.1 365.2,327.0 365.9,326.3 366.6,327.4 367.3,326.8 368.0,326.6 368.7,326.6 369.4,328.5 370.1,326.8 370.8,326.1 371.5,326.4 372.2,327.1 372.9,327.1 373.6,327.2 374.3,326.7 375.0,325.6 375.7,327.0 376.4,326.4 377.1,326.5 377.8,326.8 378.5,327.2 379.2,326.9 379.9,327.3 380.6,326.4 381.3,326.5 382.0,327.4 382.7,326.2 383.4,326.8 384.1,326.9 384.8,326.2 385.5,326.7 386.2,326.6 386.9,326.3 387.6,326.8 388.3,326.9 389.0,326.8 389.7,326.2 390.4,326.4 391.1,327.5 391.8,325.9 392.5,326.5 393.2,326.8 393.9,326.4 394.6,326.6 395.3,326.3 396.0,326.7 396.7,327.0 397.4,326.3 398.1,326.6 398.8,326.5 399.5,326.4 400.2,326.4 400.9,325.7 401.6,326.6 402.3,327.1 403.0,327.0 403.7,326.7 404.4,325.6 405.1,326.8 405.8,325.9 406.5,326.3 407.2,327.2 407.9,325.8 408.6,326.8 409.3,326.5 410.0,326.3 410.7,325.8 411.4,326.4 412.1,326.2 412.8,326.9 413.5,327.0 414.2,325.8 414.9,326.2 415.6,326.3 416.3,326.1 417.0,326.2 417.7,326.7 418.4,326.5 419.1,325.9 419.8,326.3 420.5,326.6 421.2,325.7 421.9,325.9 422.6,327.1 423.3,327.0 424.0,325.6 424.7,325.6 425.4,326.5 426.1,325.9 426.8,326.6 427.5,326.5 428.2,327.0 428.9,325.3 429.6,325.5 430.3,326.1 431.0,327.1 431.7,326.4 432.4,325.5 433.1,326.4 433.8,326.5 434.5,326.0 435.2,325.8 435.9,326.1 436.6,326.6 437.3,326.1 438.0,326.3 438.7,326.0 439.4,326.0 440.1,325.8 440.8,326.3 441.5,326.0 442.2,326.0 442.9,326.5 443.6,326.3 444.3,326.5 445.0,325.4 445.7,326.4 446.4,325.8 447.1,325.8 447.8,325.8 448.5,326.8 449.2,326.6 449.9,325.7 450.6,325.4 451.3,326.1 452.0,326.1 452.7,327.2 453.4,325.6 454.1,325.3 454.8,325.9 455.5,325.9 456.2,326.0 456.9,326.2 457.6,326.8 458.3,327.3 459.0,325.5 459.7,324.9 460.4,326.1 461.1,326.4 461.8,326.0"/>
</g>
<g stroke="#000" stroke-width="1.5" fill="none">
<path d="M35.8,4.9 L509.1,5.9 L509.1,362.7 L35.9,362.7 Z" stroke-linejoin="miter"/>
<line x1="33.2" y1="362.70" x2="35.8" y2="362.70"/><line x1="33.2" y1="303.07" x2="35.8" y2="303.07"/><line x1="33.2" y1="243.44" x2="35.8" y2="243.44"/><line x1="33.2" y1="183.81" x2="35.8" y2="183.81"/><line x1="33.2" y1="124.18" x2="35.8" y2="124.18"/><line x1="33.2" y1="64.55" x2="35.8" y2="64.55"/><line x1="33.2" y1="4.92" x2="35.8" y2="4.92"/><line x1="35.90" y1="362.7" x2="35.90" y2="365.6"/><line x1="83.40" y1="362.7" x2="83.40" y2="365.6"/><line x1="131.40" y1="362.7" x2="131.40" y2="365.6"/><line x1="178.60" y1="362.7" x2="178.60" y2="365.6"/><line x1="226.25" y1="362.7" x2="226.25" y2="365.6"/><line x1="273.85" y1="362.7" x2="273.85" y2="365.6"/><line x1="321.30" y1="362.7" x2="321.30" y2="365.6"/><line x1="368.40" y1="362.7" x2="368.40" y2="365.6"/><line x1="415.30" y1="362.7" x2="415.30" y2="365.6"/><line x1="462.30" y1="362.7" x2="462.30" y2="365.6"/><line x1="509.40" y1="362.7" x2="509.40" y2="365.6"/>
</g>
<g font-size="9.6px"><text transform="translate(29.00,365.00) scale(0.92,1)" text-anchor="end">0</text><text transform="translate(29.00,305.37) scale(0.92,1)" text-anchor="end">10</text><text transform="translate(29.00,245.74) scale(0.92,1)" text-anchor="end">20</text><text transform="translate(29.00,186.11) scale(0.92,1)" text-anchor="end">30</text><text transform="translate(29.00,126.48) scale(0.92,1)" text-anchor="end">40</text><text transform="translate(29.00,66.85) scale(0.92,1)" text-anchor="end">50</text><text transform="translate(29.00,7.22) scale(0.92,1)" text-anchor="end">60</text><g font-size="10px"><text transform="translate(36.10,378.50) scale(0.88,1)" text-anchor="middle">0</text></g><g font-size="10px"><text transform="translate(83.60,378.50) scale(0.88,1)" text-anchor="middle">100</text></g><g font-size="10px"><text transform="translate(131.60,378.50) scale(0.88,1)" text-anchor="middle">200</text></g><g font-size="10px"><text transform="translate(178.80,378.50) scale(0.88,1)" text-anchor="middle">300</text></g><g font-size="10px"><text transform="translate(226.45,378.50) scale(0.88,1)" text-anchor="middle">400</text></g><g font-size="10px"><text transform="translate(274.05,378.50) scale(0.88,1)" text-anchor="middle">500</text></g><g font-size="10px"><text transform="translate(321.50,378.50) scale(0.88,1)" text-anchor="middle">600</text></g><g font-size="10px"><text transform="translate(368.60,378.50) scale(0.88,1)" text-anchor="middle">700</text></g><g font-size="10px"><text transform="translate(415.50,378.50) scale(0.88,1)" text-anchor="middle">800</text></g><g font-size="10px"><text transform="translate(462.50,378.50) scale(0.88,1)" text-anchor="middle">900</text></g><g font-size="10px"><text transform="translate(509.60,378.50) scale(0.88,1)" text-anchor="middle">1000</text></g></g>
<g stroke="#000" stroke-width="1.1" fill="#fff"><rect x="45.4" y="47.4" width="72" height="67.3"/></g>
<g stroke="#000" stroke-width="1.6"><line x1="47.7" y1="53.90" x2="64.8" y2="53.90"/><line x1="47.7" y1="67.40" x2="64.8" y2="67.40"/><line x1="47.7" y1="80.90" x2="64.8" y2="80.90"/><line x1="47.7" y1="94.40" x2="64.8" y2="94.40"/><line x1="47.7" y1="107.90" x2="64.8" y2="107.90"/></g>
<g font-size="9.6px"><text transform="translate(66.60,56.90) scale(0.92,1)" text-anchor="start">5 uM LPA</text><text transform="translate(66.60,70.40) scale(0.92,1)" text-anchor="start">2 uM LPA</text><text transform="translate(66.60,83.90) scale(0.92,1)" text-anchor="start">1 uM LPA</text><text transform="translate(66.60,97.40) scale(0.92,1)" text-anchor="start">0.5 uM LPA</text><text transform="translate(66.60,110.90) scale(0.85,1)" text-anchor="start">control</text></g>
<text x="241" y="398.2" font-size="18px">Time(S)</text>
<text transform="translate(14.6,242.6) rotate(-90) scale(1.023,1)" x="0" y="0" font-size="17.8px">Fluorescence</text>
</svg>
</body></html>
